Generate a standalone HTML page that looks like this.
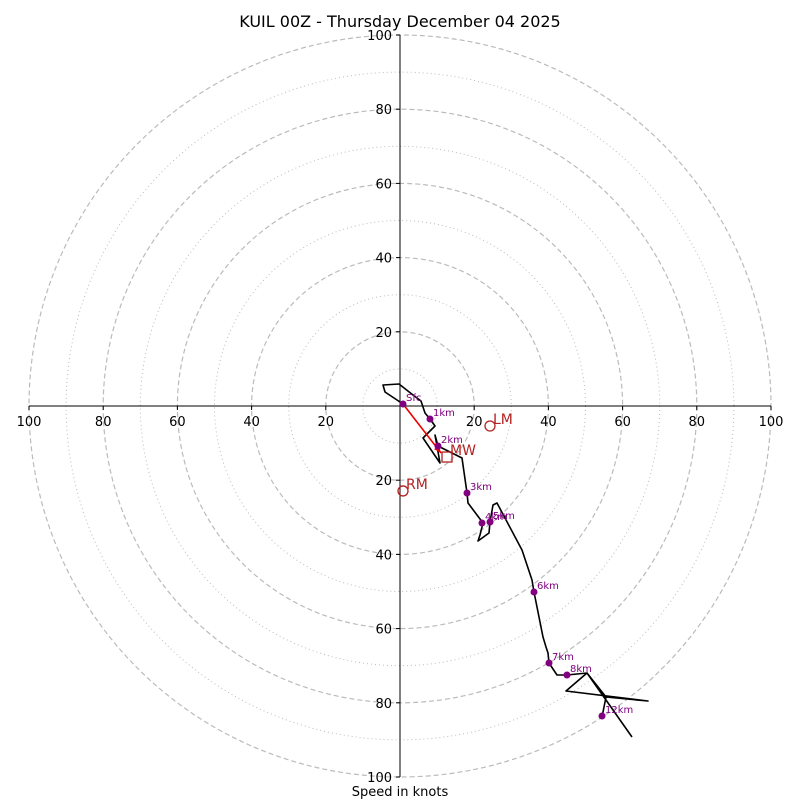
<!DOCTYPE html>
<html><head><meta charset="utf-8"><style>
html,body{margin:0;padding:0;background:#fff}
svg{display:block;font-family:"DejaVu Sans","Liberation Sans",sans-serif}
</style></head><body>
<svg id="c" width="800" height="800" viewBox="0 0 800 800">
<text x="400" y="27" text-anchor="middle" font-size="16">KUIL 00Z - Thursday December 04 2025</text>
<text x="400" y="796" text-anchor="middle" font-size="13">Speed in knots</text>
<g id="rings"></g><g id="axes"></g><g id="trace"></g><g id="marks"></g>
</svg>
<script>
const ringLevels = [10,20,30,40,50,60,70,80,90,100];
const tickLabels = [20,40,60,80,100];
const windU = [0.81,-4.04,-4.58,-0.27,3.50,5.66,6.74,8.09,9.43,6.20,10.78,9.43,10.24,16.71,18.06,18.33,22.37,21.56,21.02,23.99,24.26,25.07,26.15,32.88,35.58,36.12,38.54,39.35,39.89,40.16,42.32,45.01,50.40,44.74,66.85,55.53,54.45,55.53,50.40,62.53];
const windV = [0.54,3.77,5.66,5.93,2.96,1.35,-1.89,-3.50,-5.39,-8.63,-15.36,-7.82,-10.78,-14.02,-23.45,-26.15,-31.54,-34.77,-36.39,-34.23,-31.27,-26.68,-26.15,-38.81,-46.90,-50.13,-62.26,-64.96,-66.58,-69.27,-72.51,-72.51,-71.97,-76.82,-79.51,-78.44,-83.83,-78.44,-71.97,-89.22];
const levelNames = ["Sfc","1km","2km","3km","4km","5km","6km","7km","8km","12km"];
const levelU = [0.81,8.09,10.24,18.06,22.10,24.26,36.12,40.16,45.01,54.45];
const levelV = [0.54,-3.50,-10.78,-23.45,-31.54,-31.27,-50.13,-69.27,-72.51,-83.56];
const motionNames = ["LM","RM","MW"];
const motionU = [24.26,0.81,12.67];
const motionV = [-5.39,-22.90,-13.75];

const NS="http://www.w3.org/2000/svg";
const cx=400, cy=406, k=3.71;
const sx=u=>cx+u*k, sy=v=>cy-v*k;
function mk(tag,attrs,parent,txt){const e=document.createElementNS(NS,tag);for(const a in attrs)e.setAttribute(a,attrs[a]);if(txt!==undefined)e.textContent=txt;document.getElementById(parent).appendChild(e);return e;}

ringLevels.forEach(r=>{
  const e=mk('circle',{cx:cx,cy:cy,r:r*k,fill:'none',stroke:'#bbb','stroke-width':r%20===0?1.2:1,'stroke-dasharray':r%20===0?'5,3':'1,3'},'rings');
  
  
});
let e=mk('line',{x1:sx(-100),y1:cy,x2:sx(100),y2:cy,stroke:'#000','stroke-width':1},'axes');


e=mk('line',{x1:cx,y1:sy(100),x2:cx,y2:sy(-100),stroke:'#000','stroke-width':1},'axes');


tickLabels.forEach(t=>{
  [t,-t].forEach(s=>{
    mk('line',{x1:sx(s),y1:cy,x2:sx(s),y2:cy+4,stroke:'#000'},'axes');
    e=mk('text',{x:sx(s),y:cy+20,'text-anchor':'middle','font-size':13},'axes',String(t));
    
    
    mk('line',{x1:cx-4,y1:sy(s),x2:cx,y2:sy(s),stroke:'#000'},'axes');
    e=mk('text',{x:cx-8,y:sy(s)+5,'text-anchor':'end','font-size':13},'axes',String(t));
    
    
  });
});
const pts=windU.map((u,i)=>sx(u).toFixed(1)+','+sy(windV[i]).toFixed(1)).join(' ');
e=mk('polyline',{points:pts,fill:'none',stroke:'#000','stroke-width':1.6,'stroke-linejoin':'round'},'trace');


const ax1=sx(levelU[0]),ay1=sy(levelV[0]),ax2=sx(motionU[2])-6,ay2=sy(motionV[2])-4;
e=mk('line',{x1:ax1,y1:ay1,x2:ax2,y2:ay2,stroke:'#e00','stroke-width':1.6},'trace');


const ang=Math.atan2(ay2-ay1,ax2-ax1);
const h=[[ax2,ay2],[ax2-8*Math.cos(ang-0.4),ay2-8*Math.sin(ang-0.4)],[ax2-8*Math.cos(ang+0.4),ay2-8*Math.sin(ang+0.4)]];
e=mk('polygon',{points:h.map(p=>p.join(',')).join(' '),fill:'#e00'},'trace');


levelNames.forEach((n,i)=>{
  e=mk('circle',{cx:sx(levelU[i]),cy:sy(levelV[i]),r:3.5,fill:'#800080'},'marks');
  
  
  e=mk('text',{x:sx(levelU[i])+3,y:sy(levelV[i])-3,'font-size':10,fill:'#800080'},'marks',n);
  
  
});
motionNames.forEach((n,i)=>{
  const x=sx(motionU[i]),y=sy(motionV[i]);
  if(n==='MW') e=mk('rect',{x:x-5,y:y-5,width:10,height:10,fill:'none',stroke:'#b22222','stroke-width':1.3},'marks');
  else e=mk('circle',{cx:x,cy:y,r:5,fill:'none',stroke:'#b22222','stroke-width':1.3},'marks');
  
  
  e=mk('text',{x:x+3,y:y-2,'font-size':14,fill:'#b22222'},'marks',n);
  
  
});
</script>
</body></html>
